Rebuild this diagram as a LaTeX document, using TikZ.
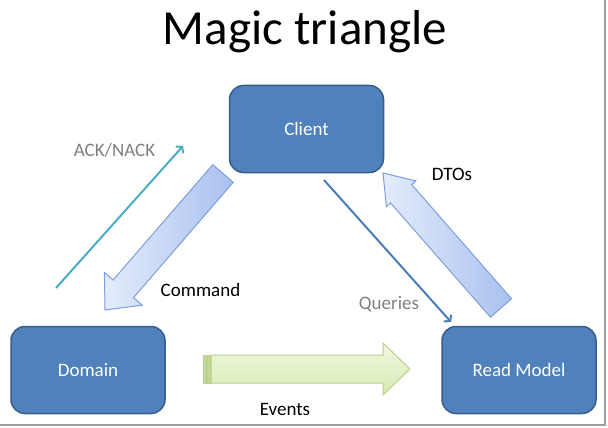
\documentclass[tikz,border=0pt]{standalone}
\usepackage{fontspec}
\setmainfont{Carlito}
\usetikzlibrary{calc, arrows.meta, positioning}

\definecolor{boxfill}{HTML}{4F81BD}
\definecolor{boxline}{HTML}{385D8A}
\definecolor{fatlight}{HTML}{E4ECFB}
\definecolor{fatdark}{HTML}{A9C1EF}
\definecolor{fatline}{HTML}{7B9FDC}
\definecolor{evlight}{HTML}{F0F8E3}
\definecolor{evdark}{HTML}{D6EBB0}
\definecolor{evline}{HTML}{B7D08A}
\definecolor{evstripe}{HTML}{C3D998}
\definecolor{acktone}{HTML}{4BACC6}
\definecolor{querytone}{HTML}{4A7EBB}
\definecolor{labelgray}{HTML}{7F7F7F}

\newcommand{\fatarrow}[6]{%
  \coordinate (hb) at ($(#3)!#6!(#2)$);
  \shade[#1] ($(#2)!#4!90:(#3)$) -- ($(hb)!#4!-90:(#2)$) -- ($(hb)!#5!-90:(#2)$) -- (#3)
    -- ($(hb)!#5!90:(#2)$) -- ($(hb)!#4!90:(#2)$) -- ($(#2)!#4!-90:(#3)$) -- cycle;
}

\tikzset{
  block/.style = {draw=boxline, line width=1.5pt, fill=boxfill, rounded corners=14pt,
    minimum width=154pt, minimum height=87pt, text=white, font=\fontsize{19}{22}\selectfont},
  lbl/.style = {anchor=base, font=\fontsize{19}{22}\selectfont},
  thinarrow/.style = {line width=2pt, -{Straight Barb[length=4pt, width=10pt]}},
  bluefat/.style = {draw=fatline, line width=1pt, left color=fatlight, right color=fatdark},
  greenfat/.style = {draw=evline, line width=1pt, top color=evlight, bottom color=evdark},
  frameline/.style = {draw=gray!75, line width=2pt}
}

\begin{document}
\begin{tikzpicture}[x=1pt, y=-1pt]
  \useasboundingbox (0, 0) rectangle (608, 428);

  \node[anchor = base, font = \fontsize{49}{56}\selectfont] (title) at (305, 45) {Magic triangle};

  \node[block] (client) at (306.5, 129) {Client};
  \node[block] (domain) at (88, 370) {Domain};
  \node[block] (readmodel) at (519, 370) {Read Model};

  \coordinate (cmd_tail) at (223, 173.5);
  \coordinate (cmd_tip) at (105, 310);
  \fatarrow{bluefat}{cmd_tail}{cmd_tip}{13.5pt}{25pt}{28pt}

  \coordinate (dto_tail) at (501, 308);
  \coordinate (dto_tip) at (383, 173);
  \fatarrow{bluefat}{dto_tail}{dto_tip}{14pt}{19.5pt}{27.5pt}

  \coordinate (ev_tail) at (211, 369);
  \coordinate (ev_tip) at (410, 369);
  \fatarrow{greenfat}{ev_tail}{ev_tip}{14pt}{26pt}{27pt}
  \draw[evline, fill = evstripe, line width = 0.6pt] (203, 355) rectangle (206, 383);
  \draw[evline, fill = evstripe, line width = 0.6pt] (207, 355) rectangle (210, 383);

  \coordinate (ack_start) at (56, 288);
  \coordinate (ack_end) at (183, 146);
  \draw[thinarrow, acktone] (ack_start) -- (ack_end);

  \coordinate (qry_start) at (324, 180);
  \coordinate (qry_end) at (451, 322);
  \draw[thinarrow, querytone] (qry_start) -- (qry_end);

  \node[lbl, labelgray] (ack) at (114.5, 156) {ACK/NACK};
  \node[lbl] (command) at (200.5, 296) {Command};
  \node[lbl] (dtos) at (452, 180) {DTOs};
  \node[lbl, labelgray] (queries) at (389, 309) {Queries};
  \node[lbl] (events) at (285, 415) {Events};

  \draw[frameline] (0, 424.5) -- (604.5, 424.5) -- (604.5, 0);
\end{tikzpicture}
\end{document}
